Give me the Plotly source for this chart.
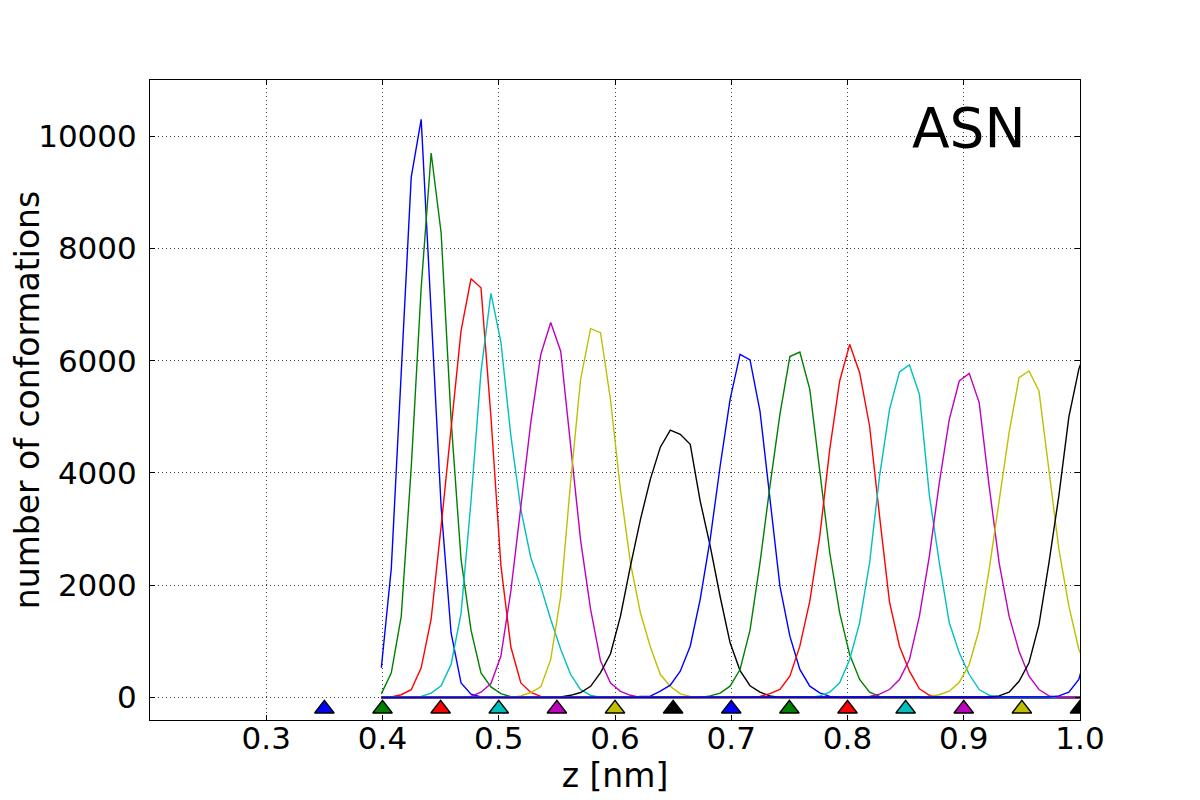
import numpy as np
import plotly.graph_objects as go

# ---- data ----
bin_start = 0.399          # z of the first histogram bin [nm]
bin_width = 0.6 / 70       # histogram bin width [nm]
n_bins = 72

window_centers = [0.35, 0.40, 0.45, 0.50, 0.55, 0.60, 0.65,
                  0.70, 0.75, 0.80, 0.85, 0.90, 0.95, 1.00]
window_colors = ["#0000ff", "#008000", "#ff0000", "#00bfbf", "#bf00bf", "#bfbf00", "#000000"]

# (first bin index, counts) for each umbrella window; bins outside are 0
hist_035 = (0, [530, 2300, 5800, 9270, 10300, 6800, 3400, 1150, 260, 60, 10])
hist_040 = (0, [66, 440, 1450, 4100, 7300, 9700, 8280, 4950, 2460, 1200, 440, 190, 70, 15])
hist_045 = (1, [10, 50, 140, 530, 1400, 3050, 4750, 6530, 7460, 7300, 5000, 2350, 900, 260, 90, 20])
hist_050 = (4, [20, 80, 210, 590, 1500, 3500, 5800, 7200, 6330, 4660, 3350, 2490, 1980, 1390, 860, 410, 140, 40])
hist_055 = (9, [20, 95, 250, 740, 1900, 3350, 4900, 6110, 6680, 6170, 4500, 2800, 1570, 650, 260, 110, 40])
hist_060 = (14, [30, 90, 190, 680, 1800, 3850, 5670, 6570, 6500, 5300, 3700, 2400, 1510, 900, 410, 200, 66, 20])
hist_065 = (18, [10, 40, 90, 200, 445, 780, 1450, 2340, 3170, 3890, 4460, 4765, 4690, 4510, 3500, 2700,
                 1800, 975, 480, 210, 95, 30])
hist_070 = (26, [20, 25, 113, 220, 470, 915, 1750, 2816, 4120, 5312, 6114, 6013, 5104, 3530, 1984, 1093,
                 500, 202, 83, 20])
hist_075 = (33, [30, 80, 202, 499, 1200, 2400, 3767, 5045, 6073, 6155, 5490, 4004, 2579, 1509, 766, 321, 95, 20])
hist_080 = (38, [20, 71, 143, 380, 915, 1717, 2875, 4421, 5639, 6292, 5787, 4837, 3232, 1700, 915, 469, 155, 40])
hist_085 = (44, [30, 95, 262, 677, 1331, 2400, 3945, 5134, 5800, 5924, 5401, 3600, 2400, 1331, 796, 410, 143, 40])
hist_090 = (49, [20, 60, 143, 321, 677, 1450, 2519, 3827, 4955, 5639, 5775, 5253, 3767, 2400, 1450, 826, 380, 143, 30])
hist_095 = (55, [20, 50, 113, 273, 588, 1212, 2282, 3529, 4718, 5698, 5817, 5460, 4064, 2638, 1628, 856, 500])
hist_100 = (61, [10, 30, 95, 290, 620, 1300, 2400, 3600, 5000, 5850, 6350])
hist_105 = (67, [10, 30, 95, 321, 992])

histograms = [hist_035, hist_040, hist_045, hist_050, hist_055, hist_060, hist_065,
              hist_070, hist_075, hist_080, hist_085, hist_090, hist_095, hist_100, hist_105]

x_ticks = [0.3, 0.4, 0.5, 0.6, 0.7, 0.8, 0.9, 1.0]
y_ticks = [0, 2000, 4000, 6000, 8000, 10000]

# ---- figure ----
z = bin_start + bin_width * np.arange(n_bins)
fig = go.Figure()

for j, (start, vals) in enumerate(histograms):
    counts = np.zeros(n_bins)
    counts[start:start + len(vals)] = vals
    fig.add_trace(go.Scatter(x=z, y=counts, mode="lines",
                             line=dict(color=window_colors[j % 7], width=1.4),
                             showlegend=False, hoverinfo="skip"))

fig.add_trace(go.Scatter(
    x=window_centers, y=[-200] * len(window_centers), mode="markers",
    marker=dict(symbol="triangle-up", size=17,
                color=[window_colors[j % 7] for j in range(len(window_centers))],
                line=dict(color="black", width=1.3)),
    showlegend=False, hoverinfo="skip"))

fig.add_annotation(x=0.8535, y=10140, xref="x", yref="y", text="ASN", showarrow=False,
                   xanchor="left", yanchor="middle",
                   font=dict(size=55, color="black", family="DejaVu Sans"))

axis_common = dict(showline=True, linecolor="black", linewidth=1, mirror="ticks",
                   ticks="inside", ticklen=5, tickcolor="black", tickwidth=1,
                   showgrid=True, gridcolor="rgba(0,0,0,0.75)", gridwidth=1, griddash="1px,3px",
                   zeroline=False, tickfont=dict(size=31, color="black"))

fig.update_xaxes(range=[0.2, 1.0], tickvals=x_ticks, ticktext=[f"{t:.1f}" for t in x_ticks],
                 ticklabelstandoff=-9,
                 title=dict(text="z [nm]", font=dict(size=33, color="black"), standoff=0),
                 **axis_common)
fig.update_yaxes(range=[-400, 11000], tickvals=y_ticks, ticktext=[str(t) for t in y_ticks],
                 ticklabelstandoff=6,
                 title=dict(text="number of conformations", font=dict(size=33, color="black"), standoff=12),
                 **axis_common)

# the page adds an 8px offset, so the margins are shifted to keep the plot area at 150..1080 x 80..720
fig.update_layout(width=1200, height=800,
                  margin=dict(l=142, r=128, t=72, b=88, autoexpand=False),
                  plot_bgcolor="white", paper_bgcolor="white",
                  font=dict(family="DejaVu Sans", color="black"))

fig.write_html("out.html")
